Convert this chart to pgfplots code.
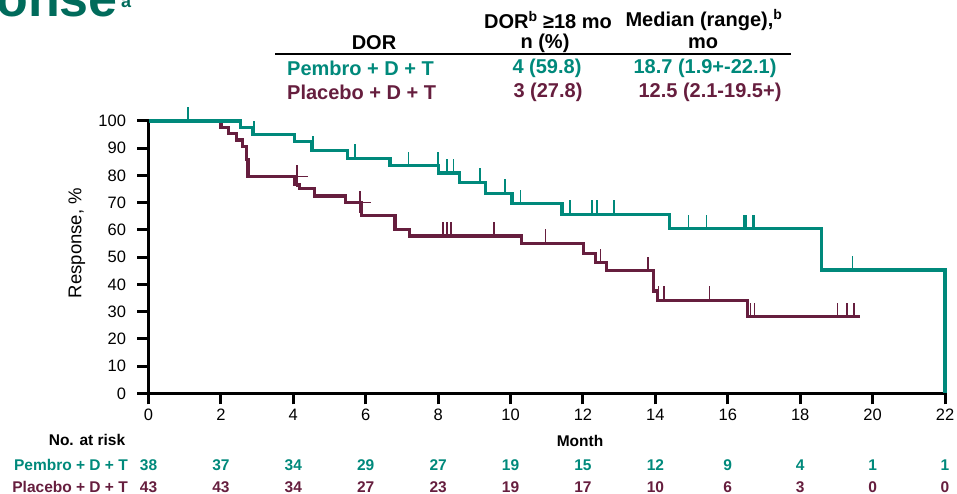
\documentclass[border=0pt]{standalone}
\usepackage{pgfplots}
\pgfplotsset{compat=1.18}
\usepackage{fontspec}
\setmainfont{Liberation Sans}
\definecolor{pemb}{HTML}{00897B}
\definecolor{plac}{HTML}{661E3E}
\definecolor{titlegreen}{HTML}{006B5B}
\pgfdeclareplotmark{cens}{\pgfpathmoveto{\pgfpointorigin}\pgfpathlineto{\pgfpoint{0pt}{14pt}}\pgfusepathqstroke}
\newcommand{\hdr}{\fontsize{20}{24}\selectfont\bfseries}
\newcommand{\rsk}{\fontsize{15.5}{18}\selectfont\bfseries}

\begin{document}
\begin{tikzpicture}[x=1pt,y=1pt]
\useasboundingbox (0,0) rectangle (957,494);
% partial title
\node[anchor=base east, inner sep=0pt, font=\fontsize{52}{60}\selectfont\bfseries, text=titlegreen] at (118,477) {onse};
\node[anchor=base west, inner sep=0pt, font=\fontsize{18}{22}\selectfont\bfseries, text=titlegreen] at (121,486) {a};
% header table
\node[font=\hdr] at (374,451) {DOR};
\node[font=\hdr] at (548,474) {DOR\textsuperscript{b} ≥18 mo};
\node[font=\hdr] at (545,451) {n (\%)};
\node[font=\hdr] at (704,474) {Median (range),\textsuperscript{b}};
\node[font=\hdr] at (703,451) {mo};
\draw[line width=2pt] (275,440) -- (791,440);
\node[font=\hdr, text=pemb, anchor=west, inner sep=0pt] at (287,425.5) {Pembro + D + T};
\node[font=\hdr, text=pemb] at (547,425.5) {4 (59.8)};
\node[font=\hdr, text=pemb] at (705,425.5) {18.7 (1.9+-22.1)};
\node[font=\hdr, text=plac, anchor=west, inner sep=0pt] at (287,402) {Placebo + D + T};
\node[font=\hdr, text=plac] at (548,402) {3 (27.8)};
\node[font=\hdr, text=plac] at (710,402) {12.5 (2.1-19.5+)};

\begin{axis}[
  at={(148.5pt,100.5pt)}, anchor=south west,
  scale only axis, width=796.5pt, height=272.5pt,
  xmin=0, xmax=22, ymin=0, ymax=100,
  axis lines=left,
  axis line style={-, line width=3.4pt, black},
  clip=false,
  xtick={0,2,...,22}, ytick={0,10,...,100},
  tick align=outside, major tick length=11pt,
  tick style={line width=3pt, black},
  tick label style={font=\fontsize{16.5}{19}\selectfont},
  yticklabel style={xshift=-8pt},
  xticklabel style={yshift=-1pt},
  /pgf/number format/assume math mode=true,
]
% Placebo + D + T
\addplot[const plot, plac, line width=3.2pt] coordinates {
 (0,100) (2.0,97.7) (2.2,95.3) (2.43,93.0) (2.6,90.7) (2.7,86.0) (2.75,79.7)
 (4.04,76.8) (4.18,75.3) (4.59,72.5) (5.45,70.1) (5.88,65.2) (6.81,60.3) (7.2,57.8)
 (10.31,55.1) (12.02,51.5) (12.34,48.0) (12.66,45.0) (13.95,37.6) (14.06,34.2)
 (16.54,28.2) (19.65,28.2)
};
\addplot[only marks, mark=cens, plac, line width=1.6pt] coordinates {
 (8.14,57.8) (8.25,57.8) (8.36,57.8) (9.55,57.8) (10.96,55.1) (12.48,48.0)
 (13.79,45.0) (14.09,34.2) (14.23,34.2) (15.5,34.2) (16.63,28.2) (16.74,28.2)
 (19.03,28.2) (19.3,28.2) (19.49,28.2)
};
\addplot[only marks, mark=+, mark size=11pt, plac, line width=1.6pt] coordinates {
 (4.1,79.7) (5.84,70.1)
};
% Pembro + D + T
\addplot[const plot, pemb, line width=3.2pt] coordinates {
 (0,100) (2.55,97.5) (2.88,95.0) (4.04,92.4) (4.5,89.3) (5.5,86.3) (6.67,83.6)
 (8.0,80.9) (8.6,77.5) (9.3,73.4) (10.04,69.7) (11.42,65.8) (14.4,60.5)
 (18.58,45.3) (22.0,0)
};
\addplot[only marks, mark=cens, pemb, line width=1.6pt] coordinates {
 (1.09,100) (2.91,95.0) (4.55,89.3) (5.7,86.3) (7.18,83.6) (8.0,83.6)
 (8.24,80.9) (8.42,80.9) (9.16,77.5) (9.85,73.4) (10.28,69.7)
 (11.65,65.8) (12.25,65.8) (12.39,65.8) (12.85,65.8)
 (14.92,60.5) (15.41,60.5) (16.44,60.5) (16.5,60.5) (16.69,60.5) (16.74,60.5)
 (19.44,45.3)
};
\end{axis}

% axis labels
\node[rotate=90, font=\fontsize{18.5}{22}\selectfont] at (77,251) {Response, \%};
\node[font=\rsk] at (580,53) {Month};
\node[font=\rsk] at (87,54) {No. at risk};
% number at risk
\node[font=\rsk, text=pemb, anchor=east, inner sep=0pt] at (128,29) {Pembro + D + T};
\node[font=\rsk, text=plac, anchor=east, inner sep=0pt] at (128,7) {Placebo + D + T};
\foreach \m/\a/\b in {0/38/43, 2/37/43, 4/34/34, 6/29/27, 8/27/23, 10/19/19, 12/15/17, 14/12/10, 16/9/6, 18/4/3, 20/1/0, 22/1/0} {
  \node[font=\rsk, text=pemb, inner sep=0pt] at ({148.5+\m*36.205},29) {\a};
  \node[font=\rsk, text=plac, inner sep=0pt] at ({148.5+\m*36.205},7) {\b};
}
\end{tikzpicture}
\end{document}
